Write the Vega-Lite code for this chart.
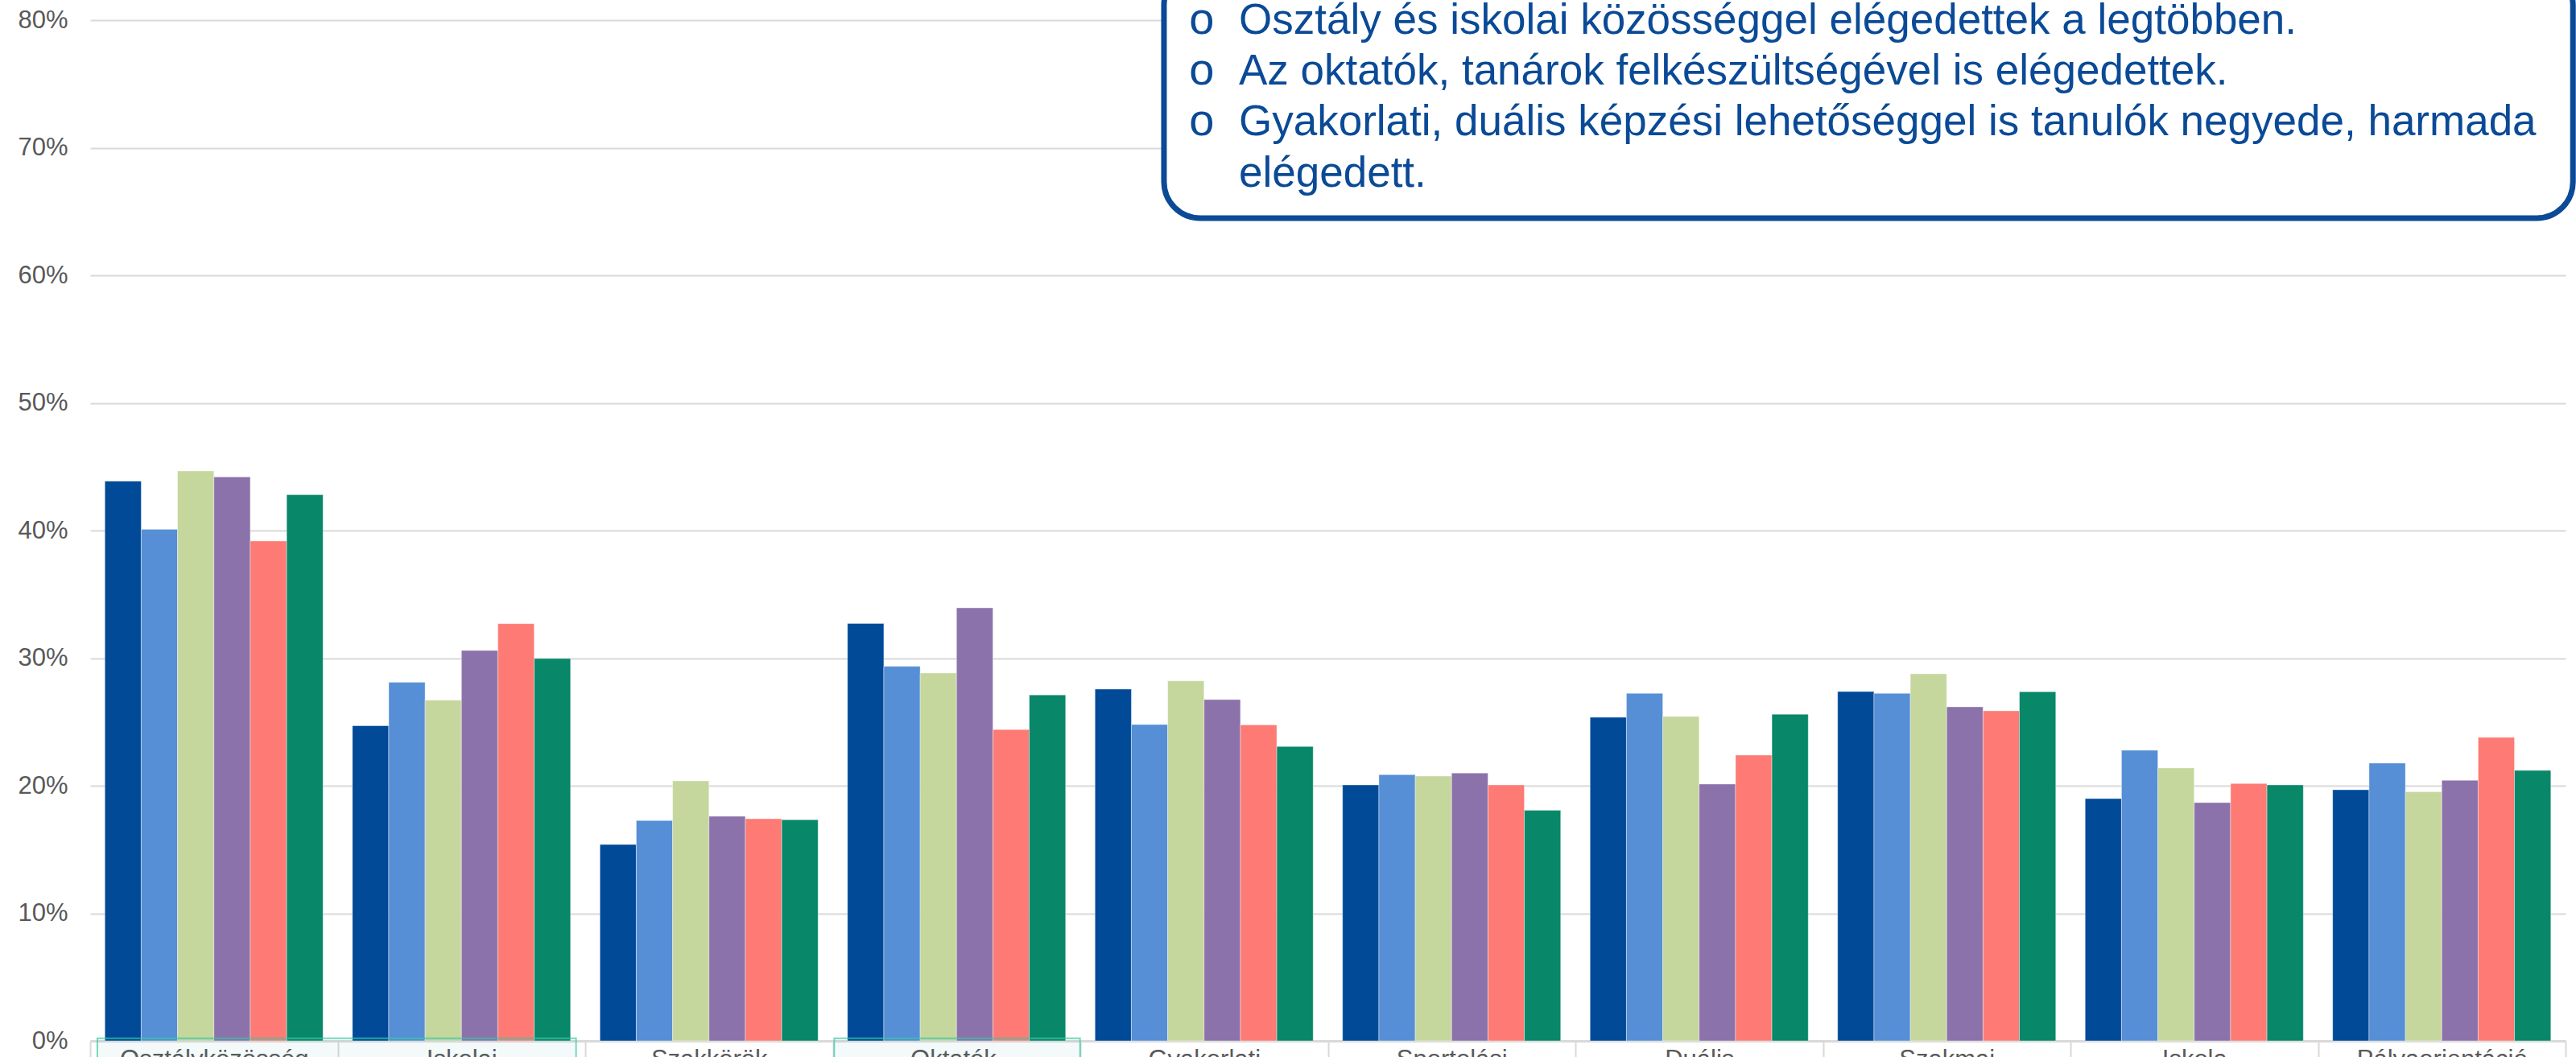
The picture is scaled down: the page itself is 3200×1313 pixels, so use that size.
{
  "$schema": "https://vega.github.io/schema/vega-lite/v6.json",
  "width": 3075,
  "height": 1268,
  "autosize": {"type": "none"},
  "padding": {"left": 112, "top": 25, "right": 13, "bottom": 20},
  "background": "#ffffff",
  "config": {"view": {"stroke": null}, "font": "Liberation Sans"},
  "datasets": {
    "bars": [
      {"cat": "Osztályközösség", "series": "Sorozat 1", "value": 0.4387},
      {"cat": "Osztályközösség", "series": "Sorozat 2", "value": 0.401},
      {"cat": "Osztályközösség", "series": "Sorozat 3", "value": 0.4467},
      {"cat": "Osztályközösség", "series": "Sorozat 4", "value": 0.442},
      {"cat": "Osztályközösség", "series": "Sorozat 5", "value": 0.3918},
      {"cat": "Osztályközösség", "series": "Sorozat 6", "value": 0.428},
      {"cat": "Iskolai közösség", "series": "Sorozat 1", "value": 0.247},
      {"cat": "Iskolai közösség", "series": "Sorozat 2", "value": 0.281},
      {"cat": "Iskolai közösség", "series": "Sorozat 3", "value": 0.267},
      {"cat": "Iskolai közösség", "series": "Sorozat 4", "value": 0.306},
      {"cat": "Iskolai közösség", "series": "Sorozat 5", "value": 0.327},
      {"cat": "Iskolai közösség", "series": "Sorozat 6", "value": 0.2997},
      {"cat": "Szakkörök", "series": "Sorozat 1", "value": 0.1539},
      {"cat": "Szakkörök", "series": "Sorozat 2", "value": 0.1727},
      {"cat": "Szakkörök", "series": "Sorozat 3", "value": 0.2038},
      {"cat": "Szakkörök", "series": "Sorozat 4", "value": 0.176},
      {"cat": "Szakkörök", "series": "Sorozat 5", "value": 0.1741},
      {"cat": "Szakkörök", "series": "Sorozat 6", "value": 0.1733},
      {"cat": "Oktatók, tanárok felkészültsége", "series": "Sorozat 1", "value": 0.3272},
      {"cat": "Oktatók, tanárok felkészültsége", "series": "Sorozat 2", "value": 0.2936},
      {"cat": "Oktatók, tanárok felkészültsége", "series": "Sorozat 3", "value": 0.2883},
      {"cat": "Oktatók, tanárok felkészültsége", "series": "Sorozat 4", "value": 0.3394},
      {"cat": "Oktatók, tanárok felkészültsége", "series": "Sorozat 5", "value": 0.244},
      {"cat": "Oktatók, tanárok felkészültsége", "series": "Sorozat 6", "value": 0.2711},
      {"cat": "Gyakorlati képzés", "series": "Sorozat 1", "value": 0.2757},
      {"cat": "Gyakorlati képzés", "series": "Sorozat 2", "value": 0.248},
      {"cat": "Gyakorlati képzés", "series": "Sorozat 3", "value": 0.2822},
      {"cat": "Gyakorlati képzés", "series": "Sorozat 4", "value": 0.2675},
      {"cat": "Gyakorlati képzés", "series": "Sorozat 5", "value": 0.2477},
      {"cat": "Gyakorlati képzés", "series": "Sorozat 6", "value": 0.2307},
      {"cat": "Sportolási lehetőségek", "series": "Sorozat 1", "value": 0.2006},
      {"cat": "Sportolási lehetőségek", "series": "Sorozat 2", "value": 0.2086},
      {"cat": "Sportolási lehetőségek", "series": "Sorozat 3", "value": 0.2076},
      {"cat": "Sportolási lehetőségek", "series": "Sorozat 4", "value": 0.2099},
      {"cat": "Sportolási lehetőségek", "series": "Sorozat 5", "value": 0.2006},
      {"cat": "Sportolási lehetőségek", "series": "Sorozat 6", "value": 0.1807},
      {"cat": "Duális képzés", "series": "Sorozat 1", "value": 0.2536},
      {"cat": "Duális képzés", "series": "Sorozat 2", "value": 0.2724},
      {"cat": "Duális képzés", "series": "Sorozat 3", "value": 0.2543},
      {"cat": "Duális képzés", "series": "Sorozat 4", "value": 0.2013},
      {"cat": "Duális képzés", "series": "Sorozat 5", "value": 0.224},
      {"cat": "Duális képzés", "series": "Sorozat 6", "value": 0.256},
      {"cat": "Szakmai képzés", "series": "Sorozat 1", "value": 0.2738},
      {"cat": "Szakmai képzés", "series": "Sorozat 2", "value": 0.2724},
      {"cat": "Szakmai képzés", "series": "Sorozat 3", "value": 0.2877},
      {"cat": "Szakmai képzés", "series": "Sorozat 4", "value": 0.2618},
      {"cat": "Szakmai képzés", "series": "Sorozat 5", "value": 0.2587},
      {"cat": "Szakmai képzés", "series": "Sorozat 6", "value": 0.2736},
      {"cat": "Iskola felszereltsége", "series": "Sorozat 1", "value": 0.1899},
      {"cat": "Iskola felszereltsége", "series": "Sorozat 2", "value": 0.2278},
      {"cat": "Iskola felszereltsége", "series": "Sorozat 3", "value": 0.2139},
      {"cat": "Iskola felszereltsége", "series": "Sorozat 4", "value": 0.1868},
      {"cat": "Iskola felszereltsége", "series": "Sorozat 5", "value": 0.2017},
      {"cat": "Iskola felszereltsége", "series": "Sorozat 6", "value": 0.2006},
      {"cat": "Pályaorientáció", "series": "Sorozat 1", "value": 0.1968},
      {"cat": "Pályaorientáció", "series": "Sorozat 2", "value": 0.2177},
      {"cat": "Pályaorientáció", "series": "Sorozat 3", "value": 0.1952},
      {"cat": "Pályaorientáció", "series": "Sorozat 4", "value": 0.2042},
      {"cat": "Pályaorientáció", "series": "Sorozat 5", "value": 0.2379},
      {"cat": "Pályaorientáció", "series": "Sorozat 6", "value": 0.212}
    ]
  },
  "layer": [
    {
      "data": {"name": "bars"},
      "mark": {"type": "bar", "stroke": "#ffffff", "strokeWidth": 1, "strokeOpacity": 0.4},
      "encoding": {
        "x": {
          "field": "cat", "type": "nominal", "sort": null,
          "scale": {"paddingInner": 0, "paddingOuter": 0},
          "axis": {
            "title": null, "domainColor": "#d9d9d9", "domainWidth": 3,
            "tickColor": "#d9d9d9", "tickWidth": 2, "tickSize": 40, "tickBand": "extent",
            "labelFontSize": 31, "labelColor": "#595959", "labelBaseline": "top",
            "labelPadding": -32, "labelAngle": 0, "labelLimit": 300,
            "labelExpr": "split(datum.label, ' ')", "labelLineHeight": 37, "grid": false
          }
        },
        "xOffset": {"field": "series", "type": "nominal", "scale": {"paddingInner": 0, "paddingOuter": 0.404}},
        "y": {
          "field": "value", "type": "quantitative",
          "scale": {"domain": [0, 0.8], "nice": false},
          "axis": {
            "title": null, "values": [0, 0.1, 0.2, 0.3, 0.4, 0.5, 0.6, 0.7, 0.8], "format": ".0%",
            "labelFontSize": 31, "labelColor": "#595959", "labelPadding": 28,
            "ticks": false, "domain": false, "grid": true, "gridColor": "#d9d9d9", "gridWidth": 2
          }
        },
        "color": {
          "field": "series", "type": "nominal",
          "scale": {"range": ["#004a98", "#568fd6", "#c6d79d", "#8b72aa", "#fd7b74", "#088769"]},
          "legend": null
        }
      }
    },
    {
      "data": {"values": [{}]},
      "mark": {"type": "rect", "fill": "#2aa198", "fillOpacity": 0.05, "stroke": "#3cc8a4", "strokeOpacity": 0.7, "strokeWidth": 2},
      "encoding": {
        "x": {"datum": 0.029, "type": "quantitative", "scale": {"domain": [0, 10], "nice": false, "zero": false}, "axis": null},
        "x2": {"datum": 1.963},
        "y": {"datum": 0.0021, "type": "quantitative"},
        "y2": {"datum": -0.03}
      }
    },
    {
      "data": {"values": [{}]},
      "mark": {"type": "rect", "fill": "#2aa198", "fillOpacity": 0.05, "stroke": "#3cc8a4", "strokeOpacity": 0.7, "strokeWidth": 2},
      "encoding": {
        "x": {"datum": 3.006, "type": "quantitative", "scale": {"domain": [0, 10], "nice": false, "zero": false}, "axis": null},
        "x2": {"datum": 3.999},
        "y": {"datum": 0.0021, "type": "quantitative"},
        "y2": {"datum": -0.03}
      }
    },
    {
      "data": {"values": [{}]},
      "mark": {"type": "rect", "fill": "#ffffff", "stroke": "#0a4a96", "strokeWidth": 7, "cornerRadius": 45},
      "encoding": {
        "x": {"datum": 4.338, "type": "quantitative", "scale": {"domain": [0, 10], "nice": false, "zero": false}, "axis": null},
        "x2": {"datum": 10.03},
        "y": {"datum": 0.6448, "type": "quantitative"},
        "y2": {"datum": 0.84}
      }
    },
    {
      "data": {"values": [{}]},
      "mark": {
        "type": "text", "text": ["o", "o", "o"], "align": "left", "baseline": "alphabetic",
        "fontSize": 56, "lineHeight": 63.3, "color": "#0a4a96", "font": "Liberation Mono"
      },
      "encoding": {
        "x": {"datum": 4.436, "type": "quantitative", "scale": {"domain": [0, 10], "nice": false, "zero": false}, "axis": null},
        "y": {"datum": 0.7895, "type": "quantitative"}
      }
    },
    {
      "data": {"values": [{}]},
      "mark": {
        "type": "text",
        "text": [
          "Osztály és iskolai közösséggel elégedettek a legtöbben.",
          "Az oktatók, tanárok felkészültségével is elégedettek.",
          "Gyakorlati, duális képzési lehetőséggel is tanulók negyede, harmada",
          "elégedett."
        ],
        "align": "left", "baseline": "alphabetic",
        "fontSize": 53, "lineHeight": 63.3, "color": "#0a4a96", "font": "Liberation Sans"
      },
      "encoding": {
        "x": {"datum": 4.6407, "type": "quantitative", "scale": {"domain": [0, 10], "nice": false, "zero": false}, "axis": null},
        "y": {"datum": 0.7895, "type": "quantitative"}
      }
    }
  ],
  "resolve": {"scale": {"x": "independent"}}
}
